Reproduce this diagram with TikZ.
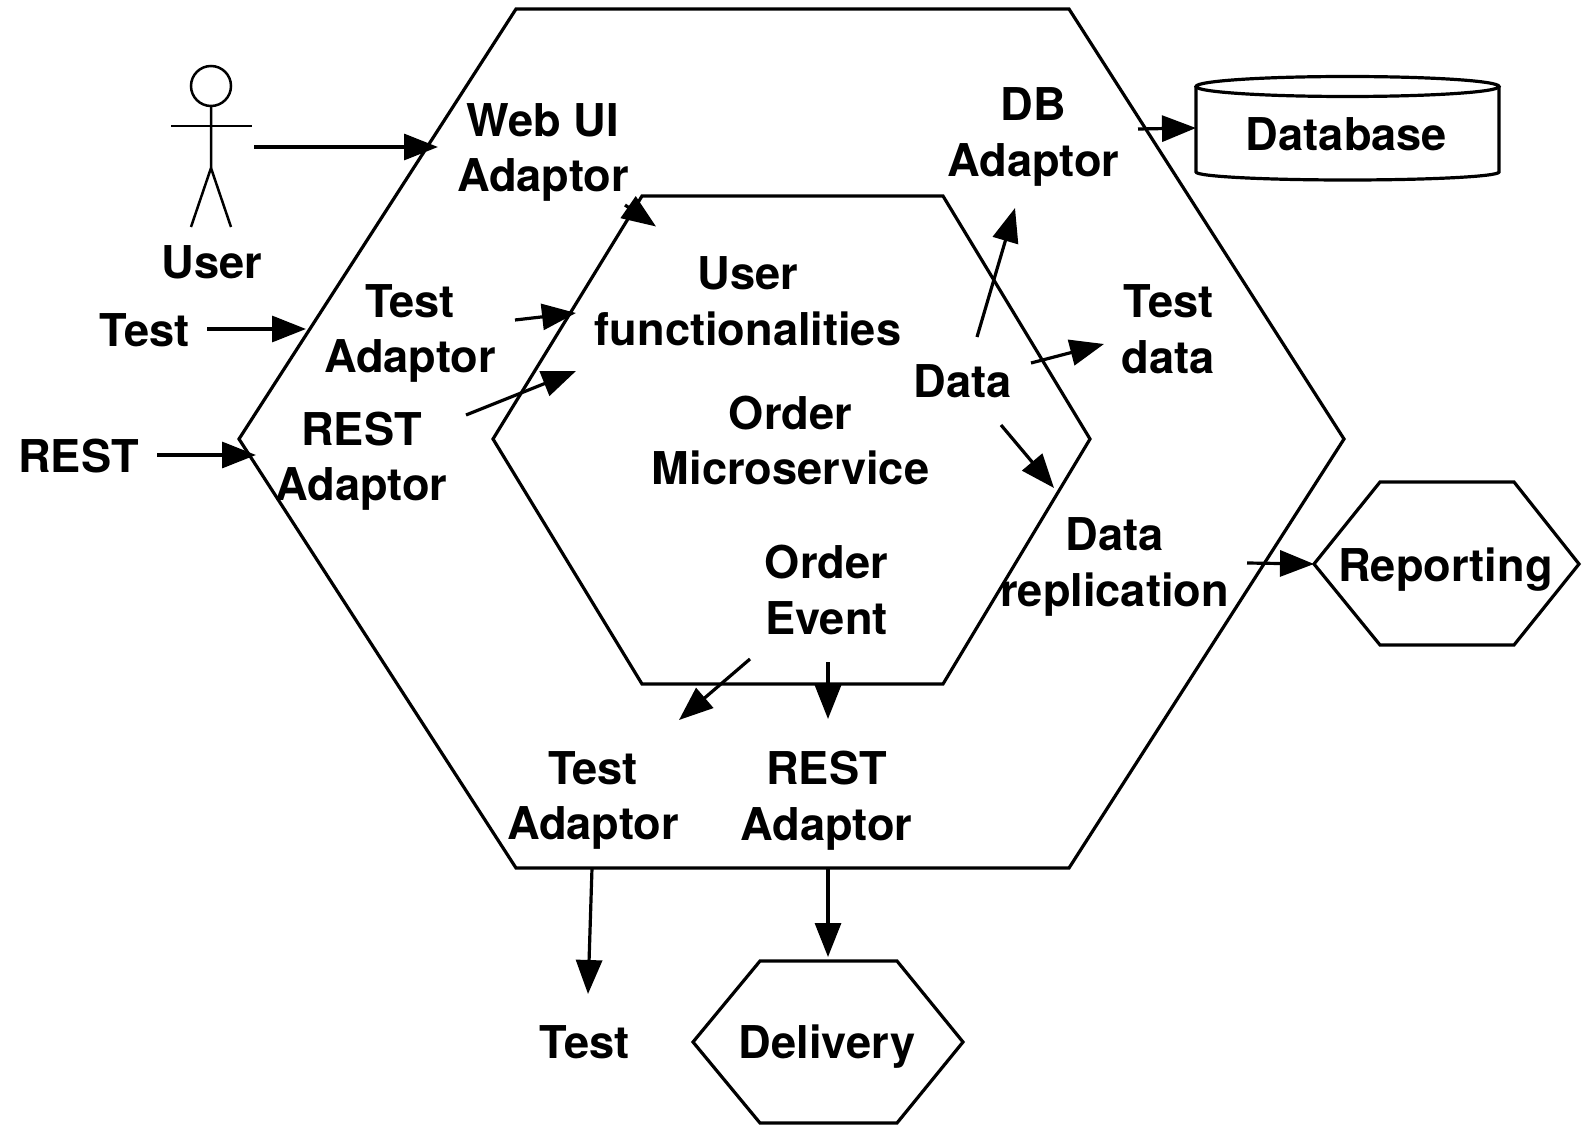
\documentclass[tikz,border=0pt]{standalone}
\usepackage{fontspec}
\setmainfont{TeX Gyre Heros}
\usetikzlibrary{arrows.meta}
\tikzset{
	txt/.style={font=\fontsize{45.2}{55.6}\selectfont\bfseries, align=center, inner sep=0pt},
	border/.style={line width=3.2pt, line join=miter},
	flow/.style={line width=3.2pt, -{Triangle[length=34pt,width=26pt]}},
	stick/.style={line width=2.5pt}
}
\begin{document}
\begin{tikzpicture}[x=1pt, y=-1pt]
	\useasboundingbox (0,0) rectangle (1586,1131);

	% hexagons
	\coordinate (reportW) at (1314,564);
	\draw[border] (516,9) -- (1069,9) -- (1344,439) -- (1069,868) -- (516,868) -- (239,439) -- cycle;
	\draw[border] (642,196) -- (943,196) -- (1090,439) -- (943,684) -- (642,684) -- (493,439) -- cycle;
	\draw[border] (1380,482) -- (1514,482) -- (1579,564) -- (1514,645) -- (1380,645) -- (reportW) -- cycle;
	\draw[border] (760,961) -- (897,961) -- (963,1042) -- (897,1123) -- (760,1123) -- (693,1042) -- cycle;
	\node[txt] (reporting) at (1445.5,570) {Reporting};
	\node[txt] (delivery) at (827,1047) {Delivery};

	% database
	\coordinate (dbW) at (1196,128);
	\draw[border] (1347.5,86.5) ellipse [x radius=151.5pt, y radius=10pt];
	\draw[border] (1196,86.5) -- (dbW) -- (1196,172) arc [start angle=180, end angle=360, x radius=151.5pt, y radius=8pt] -- (1499,86.5);
	\node[txt] (database) at (1346.5,134) {Database};

	% user
	\node[draw, circle, stick, minimum size=40pt, inner sep=0pt] (head) at (211,86) {};
	\coordinate (hip) at (211,168);
	\coordinate (armL) at (171,126);
	\coordinate (armR) at (252,126);
	\coordinate (legL) at (191,227);
	\coordinate (legR) at (231,227);
	\draw[stick] (head) -- (hip) -- (legL);
	\draw[stick] (hip) -- (legR);
	\draw[stick] (armL) -- (armR);

	% labels
	\node[txt] (user) at (212,262) {User};
	\node[txt] (testin) at (144.5,330) {Test};
	\node[txt] (restin) at (78.5,456) {REST};
	\node[txt] (webui) at (543,152.5) {Web UI\\Adaptor};
	\node[txt] (testad) at (410,333.5) {Test\\Adaptor};
	\node[txt] (restad) at (361.5,461) {REST\\Adaptor};
	\node[txt] (func) at (748,301) {User\\functionalities};
	\node[txt] (order) at (790.5,440.5) {Order\\Microservice};
	\node[txt] (data) at (962.5,381) {Data};
	\node[txt] (dbad) at (1033.5,137) {DB\\Adaptor};
	\node[txt] (testdata) at (1168.5,329) {Test\\data};
	\node[txt] (datarep) at (1114.5,567) {Data\\replication};
	\node[txt] (event) at (826.5,590) {Order\\Event};
	\node[txt] (testout) at (593,800.5) {Test\\Adaptor};
	\node[txt] (restout) at (826.5,800.5) {REST\\Adaptor};
	\node[txt] (testend) at (584.5,1042) {Test};

	% free ends of the arrows
	\coordinate (a1) at (254,147);
	\coordinate (b1) at (438,147);
	\coordinate (a2) at (207,329);
	\coordinate (b2) at (306,329);
	\coordinate (a3) at (157,455);
	\coordinate (b3) at (256,455);
	\coordinate (a4) at (515,320);
	\coordinate (b4) at (576,313);
	\coordinate (a5) at (466,415);
	\coordinate (b5) at (576,371);
	\coordinate (a6) at (625,205);
	\coordinate (b6) at (656,226.5);
	\coordinate (a7) at (977,337);
	\coordinate (b7) at (1015,208);
	\coordinate (a8) at (1031,363);
	\coordinate (b8) at (1104,344);
	\coordinate (a9) at (1001,425);
	\coordinate (b9) at (1054,488);
	\coordinate (a10) at (1138,129);
	\coordinate (a11) at (1247,563);
	\coordinate (a12) at (750,659);
	\coordinate (b12) at (679,720);
	\coordinate (a13) at (828,662);
	\coordinate (b13) at (828,719);
	\coordinate (a14) at (592,868);
	\coordinate (b14) at (588,994);
	\coordinate (a15) at (828,868);
	\coordinate (b15) at (828,957);

	\draw[flow] (a1) -- (b1);
	\draw[flow] (a2) -- (b2);
	\draw[flow] (a3) -- (b3);
	\draw[flow] (a4) -- (b4);
	\draw[flow] (a5) -- (b5);
	\draw[flow] (a6) -- (b6);
	\draw[flow] (a7) -- (b7);
	\draw[flow] (a8) -- (b8);
	\draw[flow] (a9) -- (b9);
	\draw[flow] (a10) -- (dbW);
	\draw[flow] (a11) -- (reportW);
	\draw[flow] (a12) -- (b12);
	\draw[flow] (a13) -- (b13);
	\draw[flow] (a14) -- (b14);
	\draw[flow] (a15) -- (b15);
\end{tikzpicture}
\end{document}
